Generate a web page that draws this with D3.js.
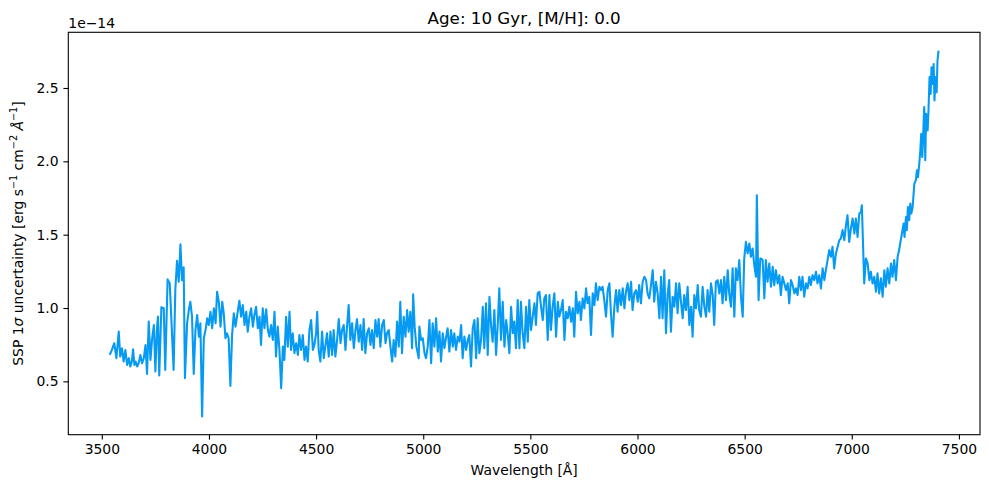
<!DOCTYPE html>
<html>
<head>
<meta charset="utf-8">
<script src="https://cdn.jsdelivr.net/npm/d3@7/dist/d3.min.js"></script>
<style>
  body { margin: 0; background: #fff; }
  svg text { font-family: "DejaVu Sans", sans-serif; fill: #000; }
</style>
</head>
<body>
<div id="ui-spectrum"></div>
<script>
const LINE_COLOR = '#069af3';

const WIDTH = 989;
const HEIGHT = 490;
const MARGIN = {
    left: 68.3,
    right: 9,
    top: 32.3,
    bottom: 55.3
};

const TITLE = 'Age: 10 Gyr, [M/H]: 0.0';
const X_LABEL = 'Wavelength [Å]';
const OFFSET_LABEL = '1e\u221214';
const X_TICKS = [3500, 4000, 4500, 5000, 5500, 6000, 6500, 7000, 7500];
const Y_TICKS = [0.5, 1.0, 1.5, 2.0, 2.5];

// blue end: 3537 - 4979 A (sigma in units of 1e-14)
const blueWave = [
    3537, 3547, 3558, 3568, 3579, 3586, 3594, 3602, 3610, 3618,
    3626, 3633, 3640, 3646, 3652, 3658, 3665, 3672, 3680, 3688,
    3696, 3704, 3711, 3719, 3727, 3735, 3743, 3750, 3757, 3762,
    3768, 3778, 3789, 3796, 3807, 3817, 3824, 3835, 3843, 3851,
    3859, 3867, 3874, 3882, 3888, 3898, 3906, 3913, 3921, 3929,
    3937, 3945, 3953, 3960, 3968, 3976, 3984, 3992, 3999, 4007,
    4015, 4023, 4031, 4038, 4046, 4054, 4062, 4069, 4077, 4084,
    4092, 4100,
    4108, 4116, 4124, 4132, 4142, 4150, 4158, 4166, 4174, 4181,
    4189, 4197, 4205, 4212, 4220, 4228, 4236, 4243, 4251, 4259,
    4267, 4275, 4282, 4290, 4298, 4306, 4313, 4321, 4329, 4337,
    4345, 4352, 4360, 4368, 4376, 4383, 4391, 4399, 4407, 4415,
    4422, 4430, 4438, 4446, 4453, 4461, 4469, 4477, 4485, 4492,
    4500, 4505, 4512, 4520, 4528, 4536, 4544, 4551, 4559, 4567,
    4575, 4582, 4590, 4598, 4606, 4614, 4621, 4629, 4637, 4645,
    4652, 4660, 4668, 4676, 4684, 4691, 4699, 4707, 4715, 4722,
    4730, 4738, 4746, 4754, 4761, 4769, 4777, 4785, 4792, 4800,
    4808, 4816, 4824, 4831, 4839, 4847, 4855, 4862, 4870, 4878,
    4886, 4893, 4901, 4909, 4917, 4925, 4932, 4940, 4948, 4953,
    4960, 4968, 4979
];
const blueSigma = [
    0.680, 0.714, 0.760, 0.658, 0.839, 0.669, 0.726, 0.635, 0.714, 0.612,
    0.658, 0.601, 0.635, 0.719, 0.612, 0.635, 0.601, 0.624, 0.680, 0.624,
    0.658, 0.748, 0.551, 0.907, 0.646, 0.794, 0.884, 0.567, 0.850, 0.941,
    0.540, 1.005, 0.998, 0.578, 1.195, 1.168, 0.941, 0.578, 1.122, 1.322,
    1.179, 1.435, 1.190, 1.277, 0.522, 0.896, 0.986, 1.043, 0.941, 0.551,
    0.850, 0.952, 0.805, 0.896, 0.261, 0.794, 0.850, 0.930, 0.884, 0.975,
    0.862, 0.998, 0.896, 1.111, 1.043, 0.873, 1.043, 0.964, 0.794, 0.828,
    0.794, 0.469,
    0.816, 0.964, 0.873, 0.952, 1.050, 0.941, 1.020, 0.884, 0.975, 0.839,
    0.941, 0.998, 0.873, 0.952, 1.009, 0.862, 0.941, 0.748, 0.998, 0.862,
    0.991, 0.850, 0.805, 0.884, 0.782, 0.975, 0.669, 0.873, 0.714, 0.454,
    0.737, 0.646, 0.941, 0.737, 0.975, 0.714, 0.828, 0.692, 0.760, 0.680,
    0.816, 0.714, 0.816, 0.646, 0.737, 0.635, 0.850, 0.918, 0.714, 0.748,
    0.828, 0.975, 0.714, 0.635, 0.839, 0.658, 0.748, 0.828, 0.669, 0.839,
    0.680, 0.850, 0.669, 0.782, 0.924, 0.760, 0.850, 0.884, 0.714, 0.884,
    1.020, 0.782, 0.896, 0.726, 0.850, 0.924, 0.771, 0.884, 0.714, 0.924,
    0.692, 0.828, 0.862, 0.748, 0.850, 0.726, 0.918, 0.805, 0.924, 0.737,
    0.884, 0.918, 0.760, 0.828, 0.850, 0.737, 0.635, 0.782, 0.669, 0.907,
    0.737, 1.043, 0.692, 0.941, 0.805, 0.986, 0.839, 0.975, 0.726, 1.094,
    0.873, 0.737, 0.658
];

// green part: 4982 - 6573 A
const greenWave = [
    4982, 4990, 4998, 5006, 5013, 5021, 5029, 5037, 5044, 5052,
    5060, 5068, 5076, 5083, 5091, 5099, 5107, 5114, 5122, 5130,
    5138, 5145, 5153, 5161, 5169, 5177, 5184, 5192, 5200, 5208,
    5215, 5223, 5231, 5239, 5247, 5254, 5262, 5270, 5278, 5285,
    5293, 5301, 5309, 5317, 5324, 5332, 5340, 5348, 5355, 5363,
    5371, 5379, 5387, 5394, 5402, 5410, 5418, 5425, 5433, 5441,
    5449, 5456, 5464, 5472, 5480, 5488, 5495, 5503, 5511, 5519,
    5526, 5534, 5542, 5550, 5558, 5565, 5573, 5581, 5589, 5596,
    5604, 5612, 5620, 5628, 5635, 5643, 5651, 5659, 5666, 5674,
    5682, 5690, 5698, 5705, 5713, 5721, 5729, 5736, 5744, 5752,
    5760, 5767, 5775, 5783, 5791, 5799, 5806, 5814, 5822,
    5830, 5837, 5845, 5853, 5861, 5869, 5876, 5884, 5892, 5900,
    5907, 5915, 5923, 5931, 5939, 5946, 5954, 5962, 5970, 5977,
    5985, 5993, 6001, 6008, 6016, 6024, 6032, 6040, 6047, 6055,
    6063, 6071, 6078, 6086, 6094, 6102, 6110, 6117, 6125, 6133,
    6141, 6148, 6156, 6164, 6172, 6180, 6187, 6195, 6203, 6211,
    6218, 6226, 6234, 6242, 6250, 6257, 6265, 6273, 6281, 6288,
    6296, 6304, 6312, 6320, 6327, 6335, 6343, 6351, 6358, 6366,
    6374, 6382, 6390, 6397, 6405, 6413, 6421, 6428, 6436, 6444,
    6452, 6459, 6467, 6475, 6483, 6491, 6498, 6506, 6514, 6522,
    6529, 6537, 6545, 6553, 6557, 6565, 6573
];
const greenSigma = [
    0.873, 0.782, 0.794, 0.692, 0.658, 0.737, 0.918, 0.624, 0.896, 0.737,
    0.930, 0.703, 0.839, 0.635, 0.828, 0.726, 0.805, 0.862, 0.703, 0.850,
    0.737, 0.828, 0.714, 0.805, 0.771, 0.884, 0.658, 0.805, 0.714, 0.782,
    0.816, 0.601, 0.862, 0.918, 0.658, 0.930, 0.692, 0.782, 1.009, 0.726,
    1.032, 0.680, 1.077, 0.873, 0.771, 0.986, 0.680, 0.896, 1.134, 0.782,
    1.043, 0.737, 0.918, 0.828, 0.692, 1.009, 0.828, 0.907, 0.726, 1.054,
    0.726, 1.043, 0.828, 0.726, 1.009, 0.771, 1.054, 0.850, 0.941, 1.032,
    0.884, 1.100, 1.111, 1.009, 0.918, 1.066, 1.088, 0.782, 1.088, 0.850,
    1.009, 1.100, 0.805, 1.043, 0.941, 0.986, 1.054, 0.782, 0.975, 0.930,
    1.009, 0.907, 0.998, 0.805, 1.111, 0.964, 1.043, 0.918, 1.066, 0.998,
    1.134, 1.032, 1.077, 0.816, 1.100, 1.020, 1.168, 1.054, 1.145,
    1.122, 1.145, 1.054, 0.941, 1.122, 1.168, 0.964, 0.805, 1.009, 1.122,
    0.975, 1.122, 1.020, 1.134, 0.998, 1.111, 1.168, 1.054, 1.179, 0.986,
    1.100, 1.122, 1.043, 1.156, 1.032, 1.179, 1.213, 1.190, 1.100, 1.066,
    1.156, 1.258, 1.043, 1.179, 1.100, 0.930, 1.213, 0.930, 1.258, 0.828,
    1.100, 1.190, 0.839, 1.077, 1.009, 1.168, 0.964, 1.168, 1.043, 0.930,
    1.088, 0.986, 1.145, 0.884, 1.009, 0.805, 1.088, 0.998, 1.156, 0.986,
    0.941, 1.145, 1.009, 0.941, 1.122, 0.975, 1.168, 1.088, 0.884, 1.179,
    1.190, 1.100, 1.190, 1.032, 1.213, 1.054, 1.258, 1.100, 1.009, 1.270,
    0.941, 1.270, 1.190, 1.327, 1.077, 0.941, 1.338, 1.451, 1.372, 1.440,
    1.349, 1.406, 1.292, 1.213, 1.769, 1.054, 1.338
];

// red end: 6576 - 7405 A
const redWave = [
    6576, 6584, 6592, 6599, 6607, 6615, 6623, 6631, 6638, 6646,
    6654, 6662, 6669, 6677, 6685, 6693, 6701, 6708, 6716, 6724,
    6732, 6739, 6747, 6755, 6763, 6770, 6778, 6786, 6794, 6802,
    6809, 6817, 6825, 6833, 6840, 6848, 6856, 6864, 6872, 6879,
    6887, 6895, 6903, 6910, 6918, 6926, 6934, 6942, 6949, 6957,
    6965, 6973, 6980, 6988, 6996, 7004, 7012, 7019, 7027, 7035,
    7043, 7047, 7052, 7058, 7066, 7074, 7082, 7089, 7097, 7105,
    7113, 7120, 7128, 7136, 7144, 7152, 7159, 7167, 7175, 7183,
    7190, 7198, 7206, 7214, 7221,
    7226, 7234, 7242, 7246, 7253, 7257, 7262, 7268, 7273, 7278,
    7284, 7292, 7299, 7304, 7309, 7315, 7320, 7324, 7329, 7334,
    7338, 7343, 7347, 7354, 7358, 7363, 7368, 7372, 7377, 7382,
    7386, 7391, 7396, 7400, 7405
];
const redSigma = [
    1.338, 1.327, 1.066, 1.327, 1.179, 1.304, 1.145, 1.281, 1.156, 1.258,
    1.168, 1.224, 1.088, 1.213, 1.168, 1.122, 1.168, 1.032, 1.190, 1.156,
    1.100, 1.134, 1.088, 1.213, 1.122, 1.213, 1.077, 1.168, 1.134, 1.213,
    1.156, 1.224, 1.190, 1.247, 1.168, 1.224, 1.134, 1.270, 1.190, 1.258,
    1.327, 1.395, 1.349, 1.417, 1.270, 1.372, 1.417, 1.463, 1.474, 1.531,
    1.463, 1.565, 1.633, 1.451, 1.542, 1.610, 1.508, 1.610, 1.485, 1.644,
    1.655, 1.701, 1.463, 1.168, 1.338, 1.304, 1.190, 1.247, 1.168, 1.213,
    1.111, 1.236, 1.100, 1.202, 1.077, 1.258, 1.145, 1.270, 1.168, 1.304,
    1.213, 1.327, 1.190, 1.349, 1.395,
    1.440, 1.508, 1.576, 1.485, 1.621, 1.531, 1.689, 1.599, 1.712, 1.644,
    1.689, 1.848, 1.871, 1.939, 1.893, 1.984, 2.075, 2.188, 2.029, 2.211,
    2.370, 2.007, 2.324, 2.211, 2.347, 2.574, 2.460, 2.642, 2.528, 2.664,
    2.415, 2.574, 2.472, 2.687, 2.755
];

const Y_LABEL_PARTS = [
    { text: 'SSP 1' },
    { text: 'σ', italic: true },
    { text: ' uncertainty [erg s' },
    { text: '\u22121', sup: true },
    { text: ' cm' },
    { text: '\u22122', sup: true },
    { text: ' ' },
    { text: 'Å', italic: true },
    { text: '\u22121', sup: true },
    { text: ']' }
];

const wavelength = blueWave.concat(greenWave, redWave);
const sigma = blueSigma.concat(greenSigma, redSigma);
const spectrum = wavelength.map((w, i) => ({ w: w, s: sigma[i] }));

// matplotlib-like 5% margin around the data
function paddedExtent(values) {
    const [lo, hi] = d3.extent(values);
    const pad = (hi - lo) * 0.05;
    return [lo - pad, hi + pad];
}

const x = d3.scaleLinear()
    .domain(paddedExtent(wavelength))
    .range([MARGIN.left, WIDTH - MARGIN.right]);

const y = d3.scaleLinear()
    .domain(paddedExtent(sigma))
    .range([HEIGHT - MARGIN.bottom, MARGIN.top]);

const svg = d3.select('#ui-spectrum')
    .append('svg')
    .attr('width', WIDTH)
    .attr('height', HEIGHT)
    .attr('viewBox', `0 0 ${WIDTH} ${HEIGHT}`);

function appendLine() {
    const line = d3.line()
        .x(d => x(d.w))
        .y(d => y(d.s));

    svg.append('path')
        .datum(spectrum)
        .attr('fill', 'none')
        .attr('stroke', LINE_COLOR)
        .attr('stroke-width', 2.08)
        .attr('stroke-linejoin', 'round')
        .attr('d', line);
}

function styleAxis(g) {
    g.select('.domain').remove();
    g.selectAll('.tick line').attr('stroke', '#000').attr('stroke-width', 1.1);
    g.selectAll('.tick text')
        .attr('fill', '#000')
        .style('font-family', '"DejaVu Sans", sans-serif')
        .style('font-size', '13.9px');
}

function appendAxes() {
    svg.append('g')
        .attr('transform', `translate(0,${HEIGHT - MARGIN.bottom})`)
        .call(d3.axisBottom(x).tickValues(X_TICKS).tickSize(4.9).tickPadding(4.9).tickFormat(d3.format('d')))
        .call(styleAxis);

    svg.append('g')
        .attr('transform', `translate(${MARGIN.left},0)`)
        .call(d3.axisLeft(y).tickValues(Y_TICKS).tickSize(4.9).tickPadding(4.9).tickFormat(d3.format('.1f')))
        .call(styleAxis);

    svg.append('rect')
        .attr('x', MARGIN.left)
        .attr('y', MARGIN.top)
        .attr('width', WIDTH - MARGIN.left - MARGIN.right)
        .attr('height', HEIGHT - MARGIN.top - MARGIN.bottom)
        .attr('fill', 'none')
        .attr('stroke', '#000')
        .attr('stroke-width', 1.1);
}

function appendTexts() {
    const cx = (MARGIN.left + WIDTH - MARGIN.right) / 2;
    const cy = (MARGIN.top + HEIGHT - MARGIN.bottom) / 2;

    svg.append('text')
        .attr('x', cx)
        .attr('y', MARGIN.top - 8.3)
        .attr('text-anchor', 'middle')
        .style('font-size', '16.7px')
        .text(TITLE);

    svg.append('text')
        .attr('x', MARGIN.left)
        .attr('y', MARGIN.top - 4.6)
        .style('font-size', '13.9px')
        .text(OFFSET_LABEL);

    svg.append('text')
        .attr('x', cx)
        .attr('y', 475)
        .attr('text-anchor', 'middle')
        .style('font-size', '13.9px')
        .text(X_LABEL);

    const yLabel = svg.append('text')
        .attr('transform', `translate(23,${cy}) rotate(-90)`)
        .attr('text-anchor', 'middle')
        .style('font-size', '13.9px');

    let shift = 0;
    Y_LABEL_PARTS.forEach(part => {
        const target = part.sup ? -5.6 : 0;
        yLabel.append('tspan')
            .attr('dy', target - shift)
            .style('font-size', part.sup ? '9.7px' : null)
            .style('font-style', part.italic ? 'italic' : null)
            .text(part.text);
        shift = target;
    });
}

appendLine();
appendAxes();
appendTexts();
</script>
</body>
</html>
